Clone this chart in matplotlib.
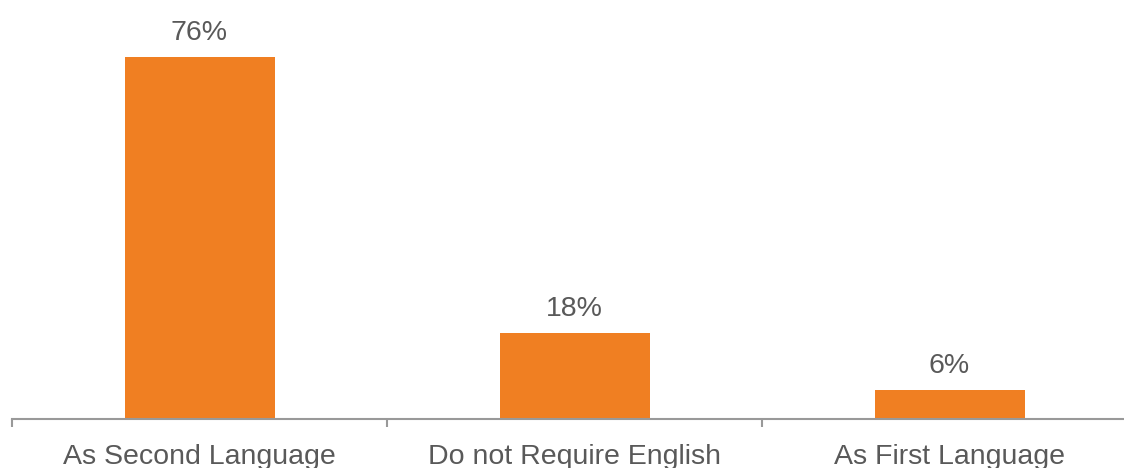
import matplotlib.pyplot as plt

plt.rcParams['font.family'] = ['Liberation Sans', 'DejaVu Sans']

categories = ['As Second Language', 'Do not Require English', 'As First Language']
values = [76, 18, 6]
labels = ['76%', '18%', '6%']

fig = plt.figure(figsize=(11.24, 4.68), dpi=100)
# axes runs past the right edge, like the original
ax = fig.add_axes([12 / 1124, 49 / 468, 1125 / 1124, 419 / 468])

x = range(len(categories))
bars = ax.bar(x, values, width=0.4, color='#F07F22')

for b, lab in zip(bars, labels):
    ax.annotate(lab, (b.get_x() + b.get_width() / 2, b.get_height()),
                xytext=(0, 8), textcoords='offset points',
                ha='center', va='bottom', fontsize=20.5, color='#595959')

ax.set_xlim(-0.5, 2.5)
ax.set_ylim(0, 87.9)

ax.set_xticks(list(x))
ax.set_xticklabels(categories, fontsize=20.5, color='#595959')
ax.tick_params(axis='x', which='major', length=0, pad=18)
ax.set_xticks([-0.5, 0.5, 1.5], minor=True)
ax.tick_params(axis='x', which='minor', length=6, width=1.5, color='#999999')

ax.set_yticks([])
for s in ['top', 'right', 'left']:
    ax.spines[s].set_visible(False)
ax.spines['bottom'].set_color('#999999')
ax.spines['bottom'].set_linewidth(1.5)

fig.savefig('out.png', dpi=100)
